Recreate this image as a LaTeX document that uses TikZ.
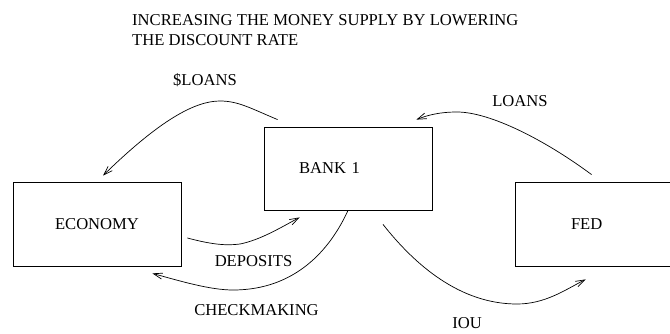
\documentclass[tikz,border=0pt]{standalone}
\usepackage{fontspec}
\setmainfont{Liberation Serif}
\usetikzlibrary{arrows.meta,calc}

\begin{document}
\begin{tikzpicture}[x=1pt, y=-1pt,
  box/.style={draw, line width=0.8pt, minimum width=168pt, minimum height=84pt, inner sep=0pt, font=\fontsize{16.6}{20}\selectfont},
  lbl/.style={inner sep=0pt, anchor=base, font=\fontsize{16.6}{20}\selectfont},
  arr/.style={-{Straight Barb[length=9pt,width=6pt]}, line width=0.7pt}
]
\useasboundingbox (0,0) rectangle (670,333);

\node[lbl, anchor=base west, align=left] (title) at (132,45) {INCREASING THE MONEY SUPPLY BY LOWERING\\THE DISCOUNT RATE};

\node[box] (eco) at (97,224) {ECONOMY};
\node[box, minimum height=83pt, align=left, text width=98pt, inner xsep=35pt] (bank) at (348,168.5) {BANK 1};
\node[box, align=left, text width=56pt, inner xsep=56pt] (fed) at (599,224) {FED};

% money flows
\draw[arr] ($(bank.north west)+(14,-7)$) .. controls (250,108) and (238,101) .. (220,101) .. controls (195,101) and (160,120) .. ($(eco.north)+(6,-6)$);
\draw[arr] ($(fed.north west)+(77,-7)$) .. controls (545,140) and (490,112) .. (457,112) .. controls (440,112) and (428,115) .. ($(bank.north east)+(-16,-7)$);
\draw[arr] ($(eco.east)+(6,14)$) .. controls (210,244) and (225,246) .. (240,244) .. controls (260,240) and (280,228) .. ($(bank.south west)+(36,7)$);
\draw[arr] (bank.south) .. controls (330,250) and (295,290) .. (233,290) .. controls (210,290) and (180,281) .. ($(eco.south east)+(-29,7)$);
\draw[arr] ($(bank.south)+(35,14)$) .. controls (415,265) and (460,304) .. (517,304) .. controls (545,304) and (565,290) .. ($(fed.south west)+(71,13)$);

\node[lbl] (sloans) at (205,85) {\$LOANS};
\node[lbl] (loans) at (520,106) {LOANS};
\node[lbl] (deposits) at (253.5,266) {DEPOSITS};
\node[lbl] (checkmaking) at (256.5,315) {CHECKMAKING};
\node[lbl] (iou) at (467,328) {IOU};

\end{tikzpicture}
\end{document}
